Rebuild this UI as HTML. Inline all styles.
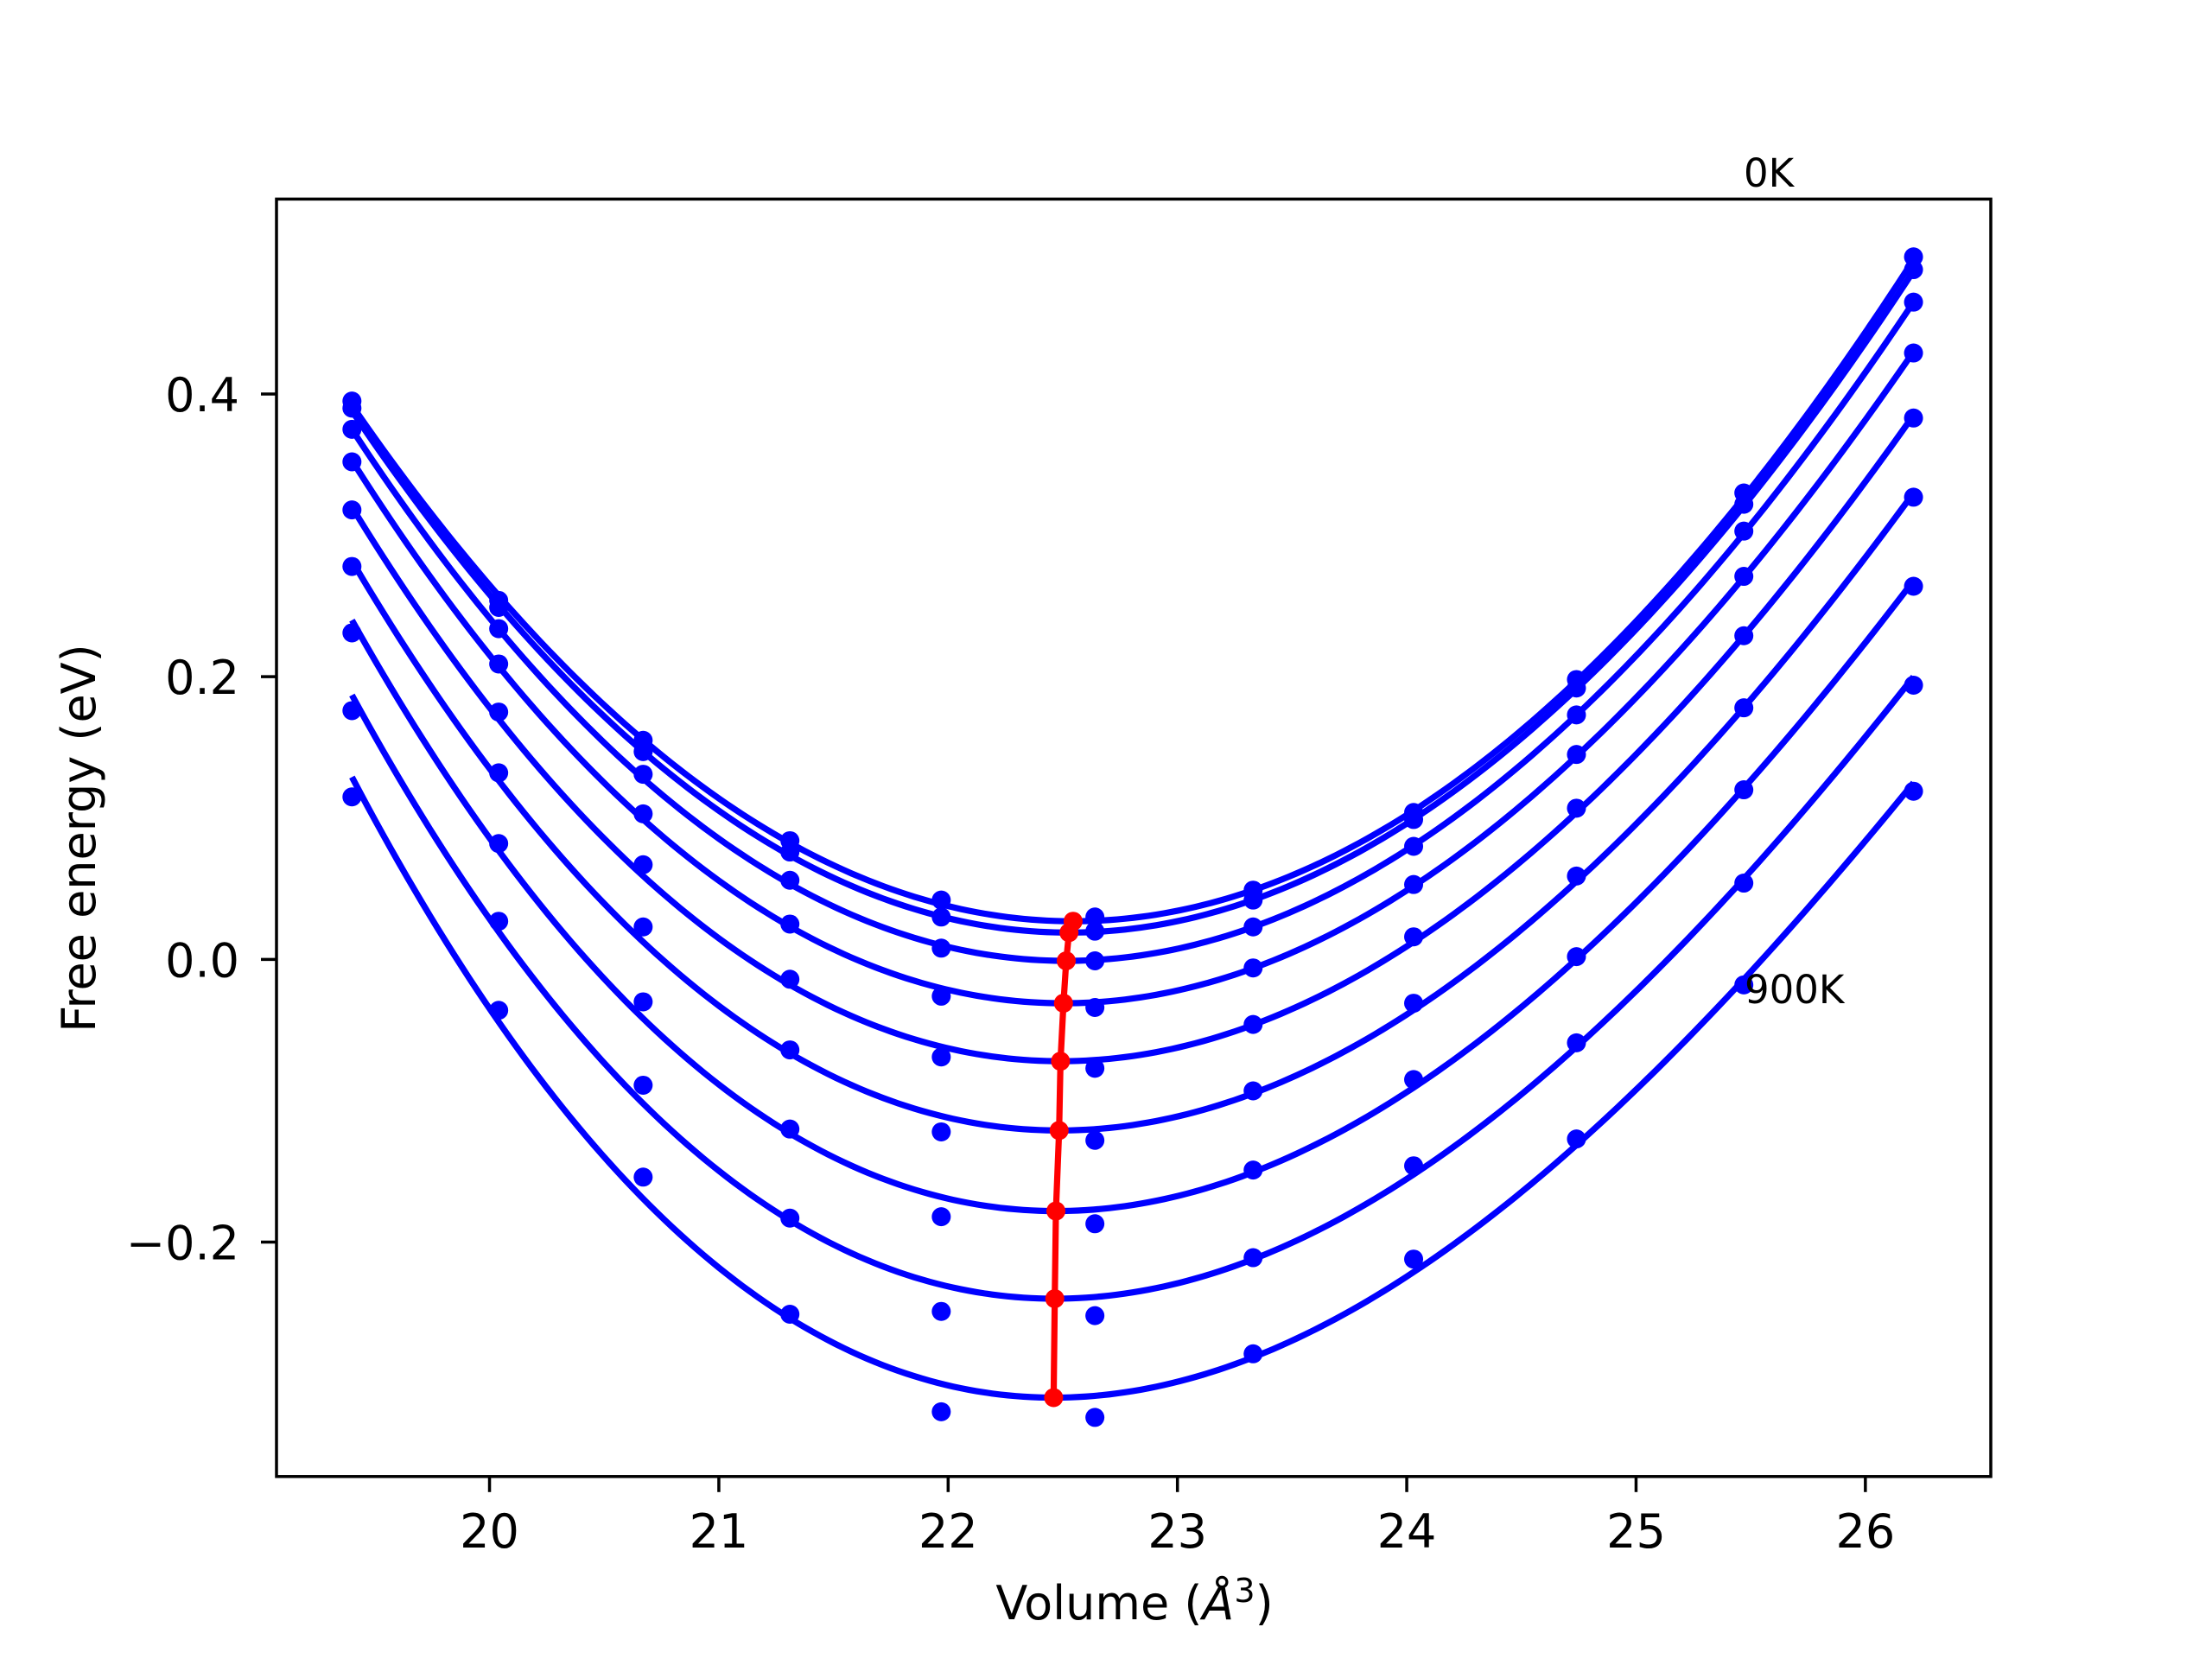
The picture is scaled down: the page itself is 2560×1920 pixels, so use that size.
<!DOCTYPE html>
<html><head><meta charset="utf-8"><title>Free energy vs volume</title>
<style>
html,body{margin:0;padding:0;background:#fff;}
svg{display:block;}
text{font-family:"DejaVu Sans","Liberation Sans",sans-serif;fill:#000;}
</style></head>
<body>
<svg id="chart" width="2560" height="1920" viewBox="0 0 2560 1920" xmlns="http://www.w3.org/2000/svg">
<rect x="0" y="0" width="2560" height="1920" fill="#fff"/>
<g id="plot"></g>
<rect x="320" y="230.4" width="1984" height="1478.4" fill="none" stroke="#000" stroke-width="3.5"/>
<g id="ticks"></g>
<text x="1313" y="1874" font-size="54" text-anchor="middle">Volume (<tspan font-style="italic">Å</tspan><tspan font-size="38" dy="-20">3</tspan><tspan dy="20">)</tspan></text>
<text x="0" y="0" font-size="54" text-anchor="middle" transform="translate(110,970) rotate(-90)">Free energy (eV)</text>
<text x="2018" y="216" font-size="45">0K</text>
<text x="2019" y="1161" font-size="45">900K</text>
</svg>
<script>
const volumes = [19.40, 20.04, 20.67, 21.31, 21.97, 22.64, 23.33, 24.03, 24.74, 25.47, 26.21];
const energies = [
  [0.395, 0.254, 0.155, 0.084, 0.042, 0.030, 0.049, 0.104, 0.198, 0.330, 0.497],
  [0.390, 0.249, 0.147, 0.076, 0.030, 0.020, 0.042, 0.099, 0.192, 0.322, 0.488],
  [0.375, 0.234, 0.131, 0.056, 0.008, -0.001, 0.023, 0.080, 0.173, 0.303, 0.465],
  [0.352, 0.209, 0.103, 0.025, -0.026, -0.034, -0.006, 0.053, 0.145, 0.271, 0.429],
  [0.318, 0.175, 0.067, -0.014, -0.069, -0.077, -0.046, 0.016, 0.107, 0.229, 0.383],
  [0.278, 0.132, 0.023, -0.064, -0.122, -0.128, -0.093, -0.031, 0.059, 0.178, 0.327],
  [0.231, 0.082, -0.030, -0.120, -0.182, -0.187, -0.149, -0.085, 0.002, 0.120, 0.264],
  [0.176, 0.027, -0.089, -0.183, -0.249, -0.252, -0.211, -0.146, -0.059, 0.054, 0.194],
  [0.115, -0.036, -0.154, -0.251, -0.320, -0.324, -0.279, -0.212, -0.127, -0.018, 0.119]
];
const minVolumes = [22.545, 22.527, 22.515, 22.503, 22.490, 22.484, 22.470, 22.465, 22.460];
const minEnergies = [0.027, 0.019, -0.001, -0.031, -0.072, -0.121, -0.178, -0.240, -0.310];
const fitLeft = [0.392, 0.388, 0.375, 0.353, 0.320, 0.282, 0.240, 0.187, 0.129];
const fitRight = [0.495, 0.487, 0.465, 0.430, 0.385, 0.330, 0.268, 0.200, 0.125];
const xTicks = [20, 21, 22, 23, 24, 25, 26];
const yTicks = [-0.2, 0.0, 0.2, 0.4];
const yTickLabels = ["\u22120.2", "0.0", "0.2", "0.4"];

const NS = "http://www.w3.org/2000/svg";
const X0 = 320, X1 = 2304, Y0 = 230.4, Y1 = 1708.8;
const xMin = 19.071, xMax = 26.547, yMin = -0.3658, yMax = 0.5379;
function xs(v){ return X0 + (v - xMin) / (xMax - xMin) * (X1 - X0); }
function ys(e){ return Y1 - (e - yMin) / (yMax - yMin) * (Y1 - Y0); }
function mk(tag, attrs, parent){ const el = document.createElementNS(NS, tag); for (const k in attrs) el.setAttribute(k, attrs[k]); parent.appendChild(el); return el; }

const plot = document.getElementById('plot');
const ticks = document.getElementById('ticks');
const vL = volumes[0], vR = volumes[volumes.length - 1];

for (let i = 0; i < energies.length; i++) {
  const V0 = minVolumes[i], E0 = minEnergies[i];
  const dL = vL - V0, dR = vR - V0;
  const pL = fitLeft[i] - E0, pR = fitRight[i] - E0;
  const det = dL*dL*dR*dR*dR - dL*dL*dL*dR*dR;
  const a = (pL*dR*dR*dR - pR*dL*dL*dL) / det;
  const b = (dL*dL*pR - dR*dR*pL) / det;
  let d = "";
  for (let k = 0; k <= 200; k++) {
    const v = vL + (vR - vL) * k / 200;
    const t = v - V0;
    const e = E0 + a*t*t + b*t*t*t;
    d += (k ? "L" : "M") + xs(v).toFixed(2) + "," + ys(e).toFixed(2);
  }
  const path = mk('path', {d: d, fill: 'none', stroke: '#0000ff', 'stroke-width': 7.2, 'stroke-linejoin': 'round'}, plot);
  
  
  for (let j = 0; j < volumes.length; j++) {
    const c = mk('circle', {cx: xs(volumes[j]), cy: ys(energies[i][j]), r: 11, fill: '#0000ff'}, plot);
    
    
  }
}
let rd = "";
for (let i = 0; i < minVolumes.length; i++) rd += (i ? "L" : "M") + xs(minVolumes[i]).toFixed(2) + "," + ys(minEnergies[i]).toFixed(2);
const red = mk('path', {d: rd, fill: 'none', stroke: '#ff0000', 'stroke-width': 7.2}, plot);


for (let i = 0; i < minVolumes.length; i++) {
  const c = mk('circle', {cx: xs(minVolumes[i]), cy: ys(minEnergies[i]), r: 11, fill: '#ff0000'}, plot);
  
  
}

for (const t of xTicks) {
  const x = xs(t);
  const l = mk('line', {x1: x, y1: Y1, x2: x, y2: Y1 + 18, stroke: '#000', 'stroke-width': 3.5}, ticks);
  
  
  const tx = mk('text', {x: x, y: 1791, 'font-size': 54, 'text-anchor': 'middle'}, ticks);
  tx.textContent = String(t);
  
  
}
for (let i = 0; i < yTicks.length; i++) {
  const y = ys(yTicks[i]);
  const l = mk('line', {x1: X0 - 18, y1: y, x2: X0, y2: y, stroke: '#000', 'stroke-width': 3.5}, ticks);
  
  
  const tx = mk('text', {x: 277, y: y + 20, 'font-size': 54, 'text-anchor': 'end'}, ticks);
  tx.textContent = yTickLabels[i];
  
  
}
</script>
</body></html>
